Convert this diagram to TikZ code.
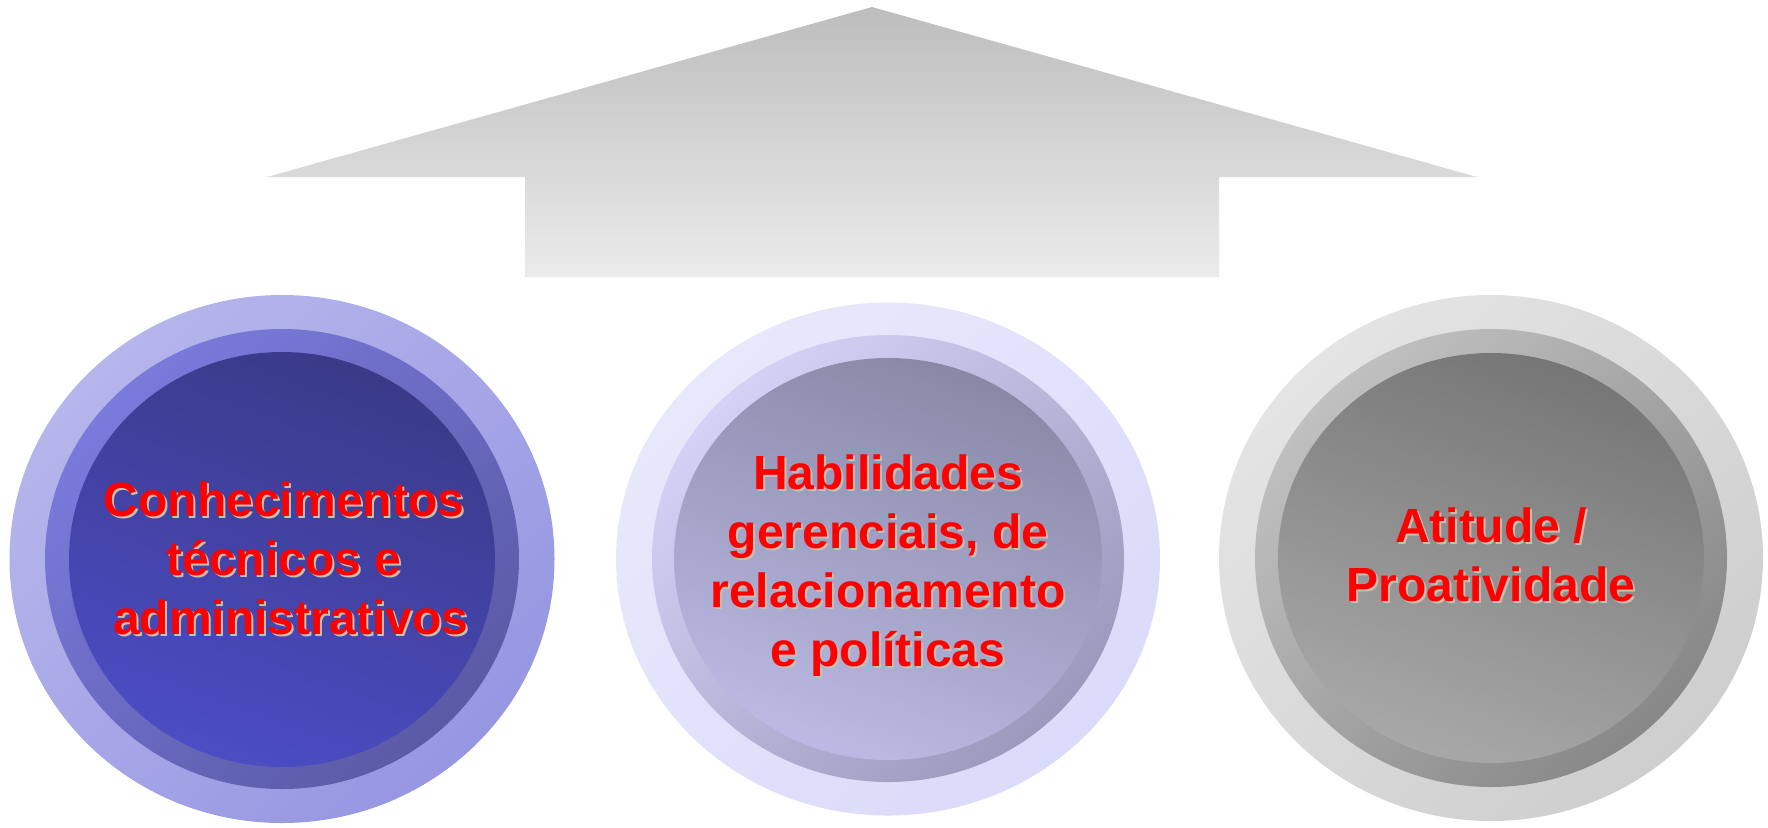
\documentclass[tikz,border=0pt]{standalone}
\usepackage{fontspec}
\setmainfont{Liberation Sans}
\definecolor{arrTop}{HTML}{BDBDBD}
\definecolor{arrBot}{HTML}{EBEBEB}
\definecolor{lA1}{HTML}{B6B6EC}\definecolor{lA2}{HTML}{9696E2}
\definecolor{lB1}{HTML}{7A7ADC}\definecolor{lB2}{HTML}{5A5AA6}
\definecolor{lC1}{HTML}{3A3A88}\definecolor{lC2}{HTML}{4C4CC4}
\definecolor{mA1}{HTML}{E8E8FC}\definecolor{mA2}{HTML}{DADAFA}
\definecolor{mB1}{HTML}{D2D2F6}\definecolor{mB2}{HTML}{9A9ABC}
\definecolor{mC1}{HTML}{8888A6}\definecolor{mC2}{HTML}{BABAE4}
\definecolor{rA1}{HTML}{E4E4E4}\definecolor{rA2}{HTML}{CECECE}
\definecolor{rB1}{HTML}{C0C0C0}\definecolor{rB2}{HTML}{888888}
\definecolor{rC1}{HTML}{767676}\definecolor{rC2}{HTML}{A8A8A8}
\definecolor{txtRed}{HTML}{FF0000}
\definecolor{txtShadow}{HTML}{C8C0B0}
\begin{document}
\begin{tikzpicture}[x=0.5pt,y=-0.5pt,
  lbl/.style={inner sep=0pt, align=center, text=txtRed,
    font=\bfseries\fontsize{24}{29.5}\selectfont},
  lblshadow/.style={lbl, text=txtShadow}]
\useasboundingbox (0,0) rectangle (1768,827);
% arrow
\shade[top color=arrTop, bottom color=arrBot]
  (872,7) -- (1477,177) -- (1219,177) -- (1219,277) -- (525,277) -- (525,177) -- (267,177) -- cycle;
% left circle
\shade[top color=lA1, bottom color=lA2, shading angle=45] (282,559) ellipse [x radius=136.25pt, y radius=132pt];
\shade[top color=lB1, bottom color=lB2, shading angle=45] (282,559) ellipse [x radius=118.5pt, y radius=115pt];
\shade[top color=lC1, bottom color=lC2, shading angle=-20] (282,559.5) ellipse [x radius=106.5pt, y radius=103.75pt];
% middle circle
\shade[top color=mA1, bottom color=mA2, shading angle=45] (888,559) ellipse [x radius=136pt, y radius=128.25pt];
\shade[top color=mB1, bottom color=mB2, shading angle=45] (888,558.5) ellipse [x radius=118pt, y radius=111.75pt];
\shade[top color=mC1, bottom color=mC2, shading angle=-20] (888,559) ellipse [x radius=107pt, y radius=100.5pt];
% right circle
\shade[top color=rA1, bottom color=rA2, shading angle=45] (1491,558) ellipse [x radius=136pt, y radius=131.5pt];
\shade[top color=rB1, bottom color=rB2, shading angle=45] (1491,558) ellipse [x radius=118pt, y radius=114.5pt];
\shade[top color=rC1, bottom color=rC2, shading angle=-20] (1491,558) ellipse [x radius=106.5pt, y radius=102.5pt];
% texts
\node[lblshadow] (t1s) at (286,560) {Conhecimentos\\técnicos e\\ \ administrativos};
\node[lbl] (t1) at (284,558) {Conhecimentos\\técnicos e\\ \ administrativos};
\node[lblshadow] (t2s) at (890,568) {Habilidades\\gerenciais, de\\relacionamento\\e políticas};
\node[lbl] (t2) at (888,566) {Habilidades\\gerenciais, de\\relacionamento\\e políticas};
\node[lblshadow] (t3s) at (1493,557) {Atitude /\\Proatividade};
\node[lbl] (t3) at (1491,555) {Atitude /\\Proatividade};
\end{tikzpicture}
\end{document}
